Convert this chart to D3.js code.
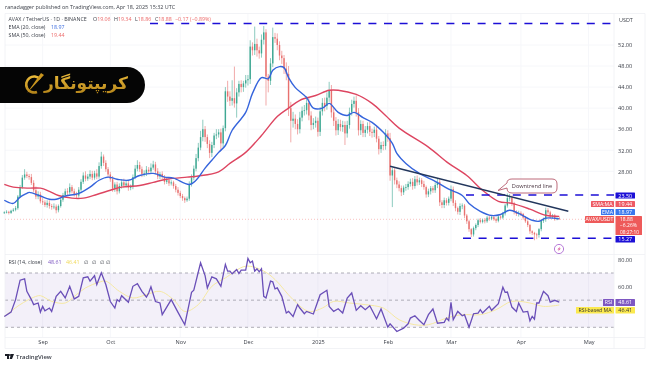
<!DOCTYPE html>
<html><head><meta charset="utf-8">
<script src="https://cdn.jsdelivr.net/npm/d3@7"></script>
<style>
html,body{margin:0;padding:0;background:#fff;overflow:hidden}
svg{display:block;filter:blur(.32px)}
text{font-family:"Open Sans",Roboto,sans-serif}
</style></head><body>
<svg id="c" width="650" height="365"></svg>
<script>
const startDay = Date.UTC(2024,7,15);
const closes = [
20.2,20.3,20.1,20.5,20.7,21.0,23.2,25.0,26.8,27.4,
27.1,26.9,25.8,24.4,23.2,23.6,22.3,22.1,21.6,22.0,
21.4,21.2,21.3,20.6,21.4,22.6,23.5,24.2,24.0,25.0,
24.2,23.7,23.4,24.5,26.0,27.2,26.6,27.0,27.5,26.8,
27.6,27.0,29.0,30.8,29.6,28.4,27.4,26.5,24.7,25.5,
24.2,25.2,25.9,25.3,25.7,24.9,25.0,26.9,28.5,29.2,
28.4,27.5,27.6,28.3,28.0,28.7,29.3,28.0,27.0,27.5,
26.9,26.0,26.3,25.7,25.9,25.2,24.5,23.9,23.3,22.9,
22.5,22.8,25.6,26.8,28.5,30.5,32.5,34.5,36.0,34.5,
33.2,31.5,33.0,34.8,35.0,35.4,33.3,36.2,43.2,42.2,
41.4,41.9,40.9,43.0,44.6,44.0,44.7,45.3,45.5,51.7,
51.0,52.2,51.0,50.4,53.0,54.4,46.0,45.2,48.5,53.5,
53.2,52.0,50.0,49.5,47.5,46.5,40.0,37.6,38.0,37.0,
36.0,38.2,39.5,39.6,41.0,38.6,36.8,37.2,37.6,35.5,
39.4,41.0,40.4,42.0,43.4,39.2,37.6,35.8,37.0,36.4,
36.8,35.2,36.8,39.2,40.8,41.4,39.2,35.8,37.0,35.3,
35.9,36.6,35.5,35.3,35.9,34.2,32.2,33.0,32.8,35.2,
34.3,27.2,28.2,26.3,25.5,24.8,24.0,24.9,25.0,25.6,
26.0,25.2,26.5,25.9,26.3,25.6,25.0,23.6,24.2,24.8,
24.4,25.4,26.0,22.1,21.6,22.5,22.0,22.8,24.6,22.0,
21.0,20.3,21.4,21.5,19.6,18.5,17.0,16.0,17.2,17.8,
18.7,18.4,18.7,18.5,19.2,19.0,19.3,18.9,18.6,19.4,
19.2,20.0,21.5,22.9,23.0,21.9,20.3,19.9,20.1,19.9,
19.2,18.5,17.8,16.6,16.3,16.0,15.9,17.0,18.6,18.9,
20.6,20.2,19.4,19.6,18.9,19.05,18.88];
const firstOpen = 20.1;
const wickUp = [
.2,.3,.2,.2,.3,.4,.3,.4,.5,1.0,
.5,.4,.6,.5,.7,.6,.5,.6,.4,.5,
.5,.4,.6,.4,.3,.5,.4,.5,.6,.7,
.4,.5,.4,.5,.5,.6,.8,.5,.7,.6,
.5,.8,.7,.9,.4,.5,.4,.5,.6,.4,
.5,.5,.6,.7,.5,.6,.5,.5,.7,.9,
.6,.5,.6,.7,.5,.8,.7,.5,.6,.4,
.5,.4,.6,.5,.4,.3,.4,.5,.4,.4,
.3,.4,.5,.6,.6,.8,.9,1.2,1.8,.6,
.5,.7,.6,.5,1.0,.6,.7,.5,.8,2.0,
1,3.4,6,.8,.6,.7,.5,1,.8,1.2,
.8,3.3,1.0,.7,1.0,1.2,.6,.5,1.0,1.8,
.8,1,.7,.9,.6,1.2,1.5,1.2,1.3,.8,
.9,1.1,.8,1,1.3,1,.8,.9,.8,.6,
.8,.9,1,1,1.6,1,.8,.7,.9,.8,
.8,.7,.8,.9,.8,.8,1,.8,.7,.6,
.7,.7,.8,.6,.6,.7,.5,.6,.7,.8,
.6,1,.5,.4,.5,.6,.5,.4,.6,.5,
.6,.7,.6,.7,.5,.4,.6,.3,.5,.4,
.4,.5,.6,.5,.4,.5,.4,.4,.7,.5,
.5,.3,.5,.4,.3,.3,.3,.2,.3,.3,
.3,.4,.3,.4,.3,.4,.3,.3,.3,.2,
.2,.3,.3,.9,.7,.4,.3,.3,.4,.3,
.2,.3,.2,.2,.2,.2,.3,.2,.3,.3,
.5,.4,.3,.3,.3,.3,.29];
const wickDown = [
.2,.2,.3,.2,.2,.3,.3,.3,.3,.4,
.4,.5,.4,.4,.5,.5,.4,.5,.4,.5,
.5,.5,.4,.6,.4,.3,.4,.3,.5,.4,
.4,.5,.5,.4,.3,.4,.5,.4,.5,.5,
.4,.5,.4,.5,.6,.5,.6,.5,.6,.6,
.6,.4,.5,.5,.4,.6,.5,.4,.4,.5,
.5,.6,.5,.5,.5,.5,.4,.6,.5,.5,
.4,.5,.4,.5,.4,.5,.5,.5,.4,.5,
.5,.3,.4,.5,.5,.5,.6,.5,.8,.9,
.8,1.0,.8,.6,.7,.6,1.4,.8,.6,1.0,
1.0,.9,.8,2.7,.8,1,.9,.8,1,.9,
1,.9,1.2,1,.8,.9,5.5,2.2,.8,.7,
.8,1,.9,1.1,1.0,1.2,1.5,4.1,1.3,1.0,
1,.8,.7,.9,.8,.9,1,.8,.9,.9,
.8,.8,1,.7,.8,1,1,1,.9,.8,
.9,2.2,.8,.7,.6,.7,.8,1,.9,.8,
.8,.7,.8,.9,.8,.7,1,.7,.8,.7,
.7,1.0,6.0,.8,.7,.6,.7,.5,.6,.5,
.5,.7,.5,.6,.5,.6,.5,.6,.5,.6,
.5,.5,.6,.7,.6,.6,.5,.5,.5,.6,
.6,.5,.6,.6,.5,.5,.5,.5,.4,.4,
.4,.3,.3,.4,.3,.4,.3,.3,.4,.3,
.3,.3,.4,.4,.6,.5,.5,.4,.5,.4,
.4,.3,.4,.5,.4,1.1,.8,.5,.4,.4,
.5,.4,.4,.4,.3,.2,.02];

const emaDays = [0,4,7,10,11,16,20,23,27,31,33,38,42,46,50,55,60,66,71,75,82,85,89,92,95,98,101,107,110,114,117,119,122,124,126,129,134,137,141,144,148,152,155,159,163,168,172,174,178,184,191,197,203,206,211,216,220,224,228,234,237,240,246];
const emaValues = [22.5,21.9,23.1,23.8,24.0,23.3,22.7,22.7,23.3,23.6,23.8,25.0,26.3,26.9,26.5,26.3,27.2,27.6,26.9,26.7,25.5,26.3,28.6,30.1,31.6,32.9,35.8,39.2,42.8,45.8,45.6,47.2,47.9,47.7,45.8,43.9,42.0,40.0,40.0,40.9,39.2,38.6,39.2,38.2,37.3,35.4,33.3,31.4,29.5,27.6,26.1,24.6,23.4,21.9,20.4,19.6,19.8,20.6,20.0,18.7,18.5,19.1,18.97];
const smaDays = [0,4,11,16,20,24,30,35,41,47,52,60,66,72,81,86,95,100,107,114,121,126,131,138,144,148,156,163,169,175,188,197,205,212,219,225,233,240,246];
const smaValues = [25.5,25.0,24.8,24.8,24.2,23.4,22.9,22.9,23.6,24.4,25.0,25.3,25.9,26.5,26.9,27.1,27.9,29.5,31.6,34.8,38.4,40.0,41.5,42.4,43.4,43.4,42.6,40.9,38.6,36.2,32.6,29.5,27.2,24.4,22.3,21.9,20.8,19.65,19.44];

const rsiDays = [0,3,5,7,9,10,12,13,15,16,17,18,20,21,23,25,27,29,31,33,35,37,38,40,41,43,45,47,49,50,51,52,55,57,59,61,63,64,65,67,69,70,74,77,80,83,84,87,89,90,92,94,96,98,99,100,101,103,104,105,107,108,109,110,111,112,113,114,115,116,118,119,120,121,123,125,126,128,130,131,133,134,137,140,143,144,146,148,150,152,154,156,158,160,162,165,167,170,171,174,177,179,180,182,184,186,188,190,192,195,196,197,198,199,201,203,204,206,208,210,211,212,215,216,219,221,222,223,225,227,228,230,232,233,234,235,236,237,239,241,242,244,246];
const rsiValues = [38,41.2,50.4,64.7,65.7,56.5,50.4,46.7,47.9,41.2,45.4,42.2,44.2,41.7,52.8,56.5,51.6,60.2,50.9,52.8,66.4,67.2,64,68,61.5,70.1,61.5,49,44.2,50.4,49,53.3,48.4,60.2,62.2,56.5,52.3,55.3,59.8,49,47.9,39.3,50.4,41,31.9,55.8,57.3,77.5,68.1,59,67.2,65.7,60.2,76.3,71.4,71.4,69.4,72.6,69.6,72.1,72.1,80.7,77.5,78.8,71.4,73.1,70.9,73.1,52.8,51.6,64,63.5,58.3,59,52.8,40.5,41.7,38,46.7,44.2,40,41.7,39.8,54,57.3,45.4,41.7,43.7,40.5,51.6,55.3,42.5,45.9,43,45.9,36.3,43.5,30.1,32.6,26.9,29.4,32.6,36.8,38.5,35,31.9,39.3,43.5,33,33.6,36.8,35,48.4,35.6,41.7,38.5,39.3,30.1,40,40.5,43,40.5,45.4,42.5,47.4,59.5,55.8,56,44.9,41.7,47.9,41.2,41.7,34.8,38,36,47.9,47.9,56.5,53.3,48.6,49.9,48.61];
const rsiMaDays = [0,7,13,16,21,27,32,36,42,45,51,57,63,69,75,80,86,92,98,107,115,120,128,135,141,146,153,160,168,175,182,188,196,203,211,218,225,233,239,246];
const rsiMaValues = [38,46.7,52.1,53.3,49.1,47.9,54.1,59,63.2,64,56.5,51.6,54.1,56.5,50.4,41.7,46.7,60.2,66.4,75,71.4,65.2,50.4,41.7,44.2,49.1,47.9,46.7,44.2,35.6,31.9,31.9,36.8,39.3,39.3,43,49.1,47.9,45.4,46.41];

const priceTicks = [28,32,36,40,44,48,52];
const rsiTicks = [60,80];
const rsiBands = [70,50,30];
const monthStarts = [[2024,8],[2024,9],[2024,10],[2024,11],[2025,0],[2025,1],[2025,2],[2025,3],[2025,4]];
const monthLabels = ["Sep","Oct","Nov","Dec","2025","Feb","Mar","Apr","May"];
const levelTop = 56.08, levelRes = 23.50, levelSup = 15.27;
const trendDays = [171,250], trendValues = [28.95,20.4];

const up="#3fa893", down="#e8716f", ink="#3a3e47";
const svg=d3.select("#c");
const dayMs=864e5;
const dateOf=i=>new Date(startDay+i*dayMs);
const x=d3.scaleUtc().domain([new Date(startDay),new Date(Date.UTC(2025,4,1))]).range([4.3,588.6]);
const y=d3.scaleLinear().domain([28,52]).range([171.3,45]);
const r=d3.scaleLinear().domain([30,70]).range([327.3,273]);
const L=5,R=614,OUT=645;
const bg=svg.append("g"), marks=svg.append("g");

// frame and grid
const months=monthStarts.map(m=>new Date(Date.UTC(m[0],m[1],1)));
bg.append("g").selectAll("line").data(months).join("line")
 .attr("x1",d=>x(d)).attr("x2",d=>x(d)).attr("y1",14).attr("y2",337).attr("stroke","#f6f7fa").attr("stroke-width",1);
bg.append("g").selectAll("line").data(priceTicks).join("line")
 .attr("x1",L).attr("x2",R).attr("y1",d=>y(d)).attr("y2",d=>y(d)).attr("stroke","#f6f7fa");
bg.append("rect").attr("x",L).attr("y",r(70)).attr("width",R-L).attr("height",r(30)-r(70)).attr("fill","#7e57c2").attr("opacity",.09);
bg.append("g").selectAll("line").data(rsiBands).join("line")
 .attr("x1",L).attr("x2",R).attr("y1",d=>r(d)).attr("y2",d=>r(d)).attr("stroke","#9a9aa5").attr("stroke-width",.8).attr("stroke-dasharray","3 3");
[[L,13.5,OUT,13.5],[L,254.5,OUT,254.5],[L,337.5,OUT,337.5],[L,348.5,OUT,348.5],[L,13.5,L,348.5],[R,13.5,R,348.5],[OUT,13.5,OUT,348.5]].forEach(a=>
 bg.append("line").attr("x1",a[0]).attr("y1",a[1]).attr("x2",a[2]).attr("y2",a[3]).attr("stroke","#eff0f4").attr("stroke-width",.8));

// current price line
marks.append("line").attr("x1",L).attr("x2",R).attr("y1",y(18.88)).attr("y2",y(18.88)).attr("stroke","#ef5350").attr("stroke-width",.8).attr("stroke-dasharray","1 2").attr("opacity",.45);

// candles
const candles=closes.map((c,i)=>{const o=i?closes[i-1]:firstOpen;return {d:dateOf(i),o,c,h:Math.max(o,c)+wickUp[i],l:Math.min(o,c)-wickDown[i]};});
marks.append("g").selectAll("line").data(candles).join("line")
 .attr("x1",d=>x(d.d)).attr("x2",d=>x(d.d)).attr("y1",d=>y(d.h)).attr("y2",d=>y(d.l))
 .attr("stroke",d=>d.c>=d.o?up:down).attr("stroke-width",.6);
marks.append("g").selectAll("rect").data(candles).join("rect")
 .attr("x",d=>x(d.d)-.7).attr("width",1.4).attr("y",d=>y(Math.max(d.o,d.c)))
 .attr("height",d=>Math.max(.8,Math.abs(y(d.o)-y(d.c))))
 .attr("fill",d=>d.c>=d.o?up:down);

// moving averages
const ln=(days,vals,sc,curve)=>d3.line().x(i=>x(dateOf(days[i]))).y(i=>sc(vals[i])).curve(curve)(d3.range(days.length));
marks.append("path").attr("d",ln(smaDays,smaValues,y,d3.curveCatmullRom)).attr("fill","none").attr("stroke","#dd4560").attr("stroke-width",1.4);
marks.append("path").attr("d",ln(emaDays,emaValues,y,d3.curveCatmullRom)).attr("fill","none").attr("stroke","#3564dc").attr("stroke-width",1.4);

// drawn levels
const dash="#1c0fd6";
const level=(x1,x2,v)=>marks.append("line").attr("x1",x1).attr("x2",x2).attr("y1",y(v)).attr("y2",y(v)).attr("stroke",dash).attr("stroke-width",1.5).attr("stroke-dasharray","8 7.6");
level(150,R,levelTop); level(466,R,levelRes); level(463,R,levelSup);
marks.append("line").attr("x1",x(dateOf(trendDays[0]))).attr("x2",x(dateOf(trendDays[1]))).attr("y1",y(trendValues[0])).attr("y2",y(trendValues[1])).attr("stroke","#22365c").attr("stroke-width",1.4);

// note bubble
const note=svg.append("g");
note.append("path").attr("d","M512 179 H552 Q557 179 557 184 V188 Q557 193 552 193 H512 Q507 193 507 188 L498 190.5 L507 183 Q507 179 512 179 Z").attr("fill","#fff").attr("stroke","#b65a6c").attr("stroke-width",.9);
note.append("text").attr("x",532).attr("y",188).attr("text-anchor","middle").attr("font-size",5.6).attr("fill","#4a3540").text("Downtrend line");

// lightning icon
const bolt=svg.append("g").attr("transform","translate(559,249)");
bolt.append("circle").attr("r",4.6).attr("fill","#fff").attr("stroke","#b77bd8").attr("stroke-width",1);
bolt.append("path").attr("d","M1.2 -2.6 L-1.6 0.5 H0 L-1 2.6 L1.8 -0.6 H0.2 Z").attr("fill","#d9559b");

// RSI
marks.append("path").attr("d",ln(rsiMaDays,rsiMaValues,r,d3.curveCatmullRom)).attr("fill","none").attr("stroke","#f5e8a2").attr("stroke-width",1);
marks.append("path").attr("d",ln(rsiDays,rsiValues,r,d3.curveLinear)).attr("fill","none").attr("stroke","#6a4fb8").attr("stroke-width",1.3);

// axes
const axisStyle=g=>{g.select(".domain").remove();g.selectAll(".tick line").remove();g.selectAll("text").attr("fill",ink).attr("font-size",5.6).attr("font-family",'"Open Sans",Roboto,sans-serif');};
svg.append("g").attr("transform",`translate(${R},0)`).call(d3.axisRight(y).tickValues(priceTicks).tickFormat(d3.format(".2f")).tickSize(0).tickPadding(4)).call(axisStyle);
svg.append("g").attr("transform",`translate(${R},0)`).call(d3.axisRight(r).tickValues(rsiTicks).tickFormat(d3.format(".2f")).tickSize(0).tickPadding(4)).call(axisStyle);
svg.append("g").attr("transform","translate(0,339)").call(d3.axisBottom(x).tickValues(months).tickFormat((d,i)=>monthLabels[i]).tickSize(0).tickPadding(1)).call(axisStyle);
const t=(xx,yy,s,fill,size,anchor,weight)=>svg.append("text").attr("x",xx).attr("y",yy).attr("fill",fill).attr("font-size",size).attr("text-anchor",anchor||"start").attr("font-weight",weight||400).text(s);
t(619,21.5,"USDT",ink,5.4);

// price tags
const tag=(x0,x1,y0,y1,fill)=>svg.append("rect").attr("x",x0).attr("y",y0).attr("width",x1-x0).attr("height",y1-y0).attr("fill",fill).attr("rx",.6);
tag(615.5,635,192.5,198.5,dash); t(625.2,197.7,"23.50","#fff",5.4,"middle");
tag(591,614,201,207,"#ee5a63"); t(602.5,205.9,"SMA:MA","#fff",5.2,"middle"); tag(615.5,635,201,207,"#ee5a63"); t(625.2,205.9,"19.44","#fff",5.4,"middle");
tag(601,614,209,215,"#3a78ee"); t(607.5,213.9,"EMA","#fff",5.2,"middle"); tag(615.5,635,209,215,"#3a78ee"); t(625.2,213.9,"18.97","#fff",5.4,"middle");
tag(585,614,216,223,"#ee5a5a"); t(599.5,221.4,"AVAX/USDT","#fff",5.2,"middle");
tag(615.5,642,216,235,"#ee5a5a"); t(620,221,"18.88","#fff",5); t(620,227.4,"−6.26%","#fff",5); t(620,233.8,"08:27:10","#fff",4.8);
tag(615.5,635,236,242.5,dash); t(625.2,241.2,"15.27","#fff",5.4,"middle");
tag(603,614,299,306,"#7e57c2"); t(608.5,304.4,"RSI","#fff",5.2,"middle"); tag(615.5,635,299,306,"#7e57c2"); t(625.2,304.4,"48.61","#fff",5.4,"middle");
tag(576,614,307,313.5,"#fbe94e"); t(595,312.2,"RSI-based MA","#333",5.2,"middle"); tag(615.5,635,307,313.5,"#fbe94e"); t(625.2,312.2,"46.41","#333",5.4,"middle");

// header and legends
t(5,9,"ranadagger published on TradingView.com, Apr 18, 2025 15:32 UTC",ink,5.45);
t(8.5,21,"AVAX / TetherUS · 1D · BINANCE",ink,5.3);
const red="#ec6a6a";
[[93,"O","19.06"],[114,"H","19.34"],[135,"L","18.86"],[155,"C","18.88"]].forEach(a=>{
 const e=t(a[0],21,a[1],ink,5.3); e.append("tspan").attr("fill",red).text(a[2]);});
t(175,21,"−0.17 (−0.89%)",red,5.3);
t(8.5,29,"EMA (20, close)",ink,5.3); t(51,29,"18.97","#3f6fe0",5.3);
t(8.5,37,"SMA (50, close)",ink,5.3); t(51,37,"19.44",red,5.3);
t(8.5,264,"RSI (14, close)",ink,5.3); t(48,264,"48.61","#7e57c2",5.3); t(66,264,"46.41","#f0d95a",5.3);
[84,92,100,106].forEach(v=>t(v,264,"∅",ink,5));

// logo banner
const pill=svg.append("g");
pill.append("path").attr("d","M0 67 H127 A18 18 0 0 1 127 103 H0 Z").attr("fill","#050505");
const grad=svg.append("defs").append("linearGradient").attr("id","gold").attr("x1",0).attr("x2",0).attr("y1",0).attr("y2",1);
grad.append("stop").attr("offset",0).attr("stop-color","#e9b93a");grad.append("stop").attr("offset",1).attr("stop-color","#b5851a");
pill.append("text").attr("x",86).attr("y",89).attr("text-anchor","middle").attr("font-size",17).attr("font-weight",700).attr("fill","url(#gold)").style("font-family",'"DejaVu Sans",sans-serif').text("کریپتونگار");
pill.append("path").attr("d","M40 79 A8 8 0 1 0 37 92").attr("fill","none").attr("stroke","url(#gold)").attr("stroke-width",2.6);
pill.append("path").attr("d","M27 93 L44 75 L41 73 Z").attr("fill","#c9951f");

// footer mark
const foot=svg.append("g");
foot.append("path").attr("d","M5 354 H9 V359 H7 V356 H5 Z").attr("fill","#1a1d26");
foot.append("circle").attr("cx",10).attr("cy",355).attr("r",1).attr("fill","#1a1d26");
foot.append("path").attr("d","M11 354 H14 L12 359 H9.6 Z").attr("fill","#1a1d26");
t(16,359,"TradingView","#3a3e47",6,"start",600);
</script></body></html>
